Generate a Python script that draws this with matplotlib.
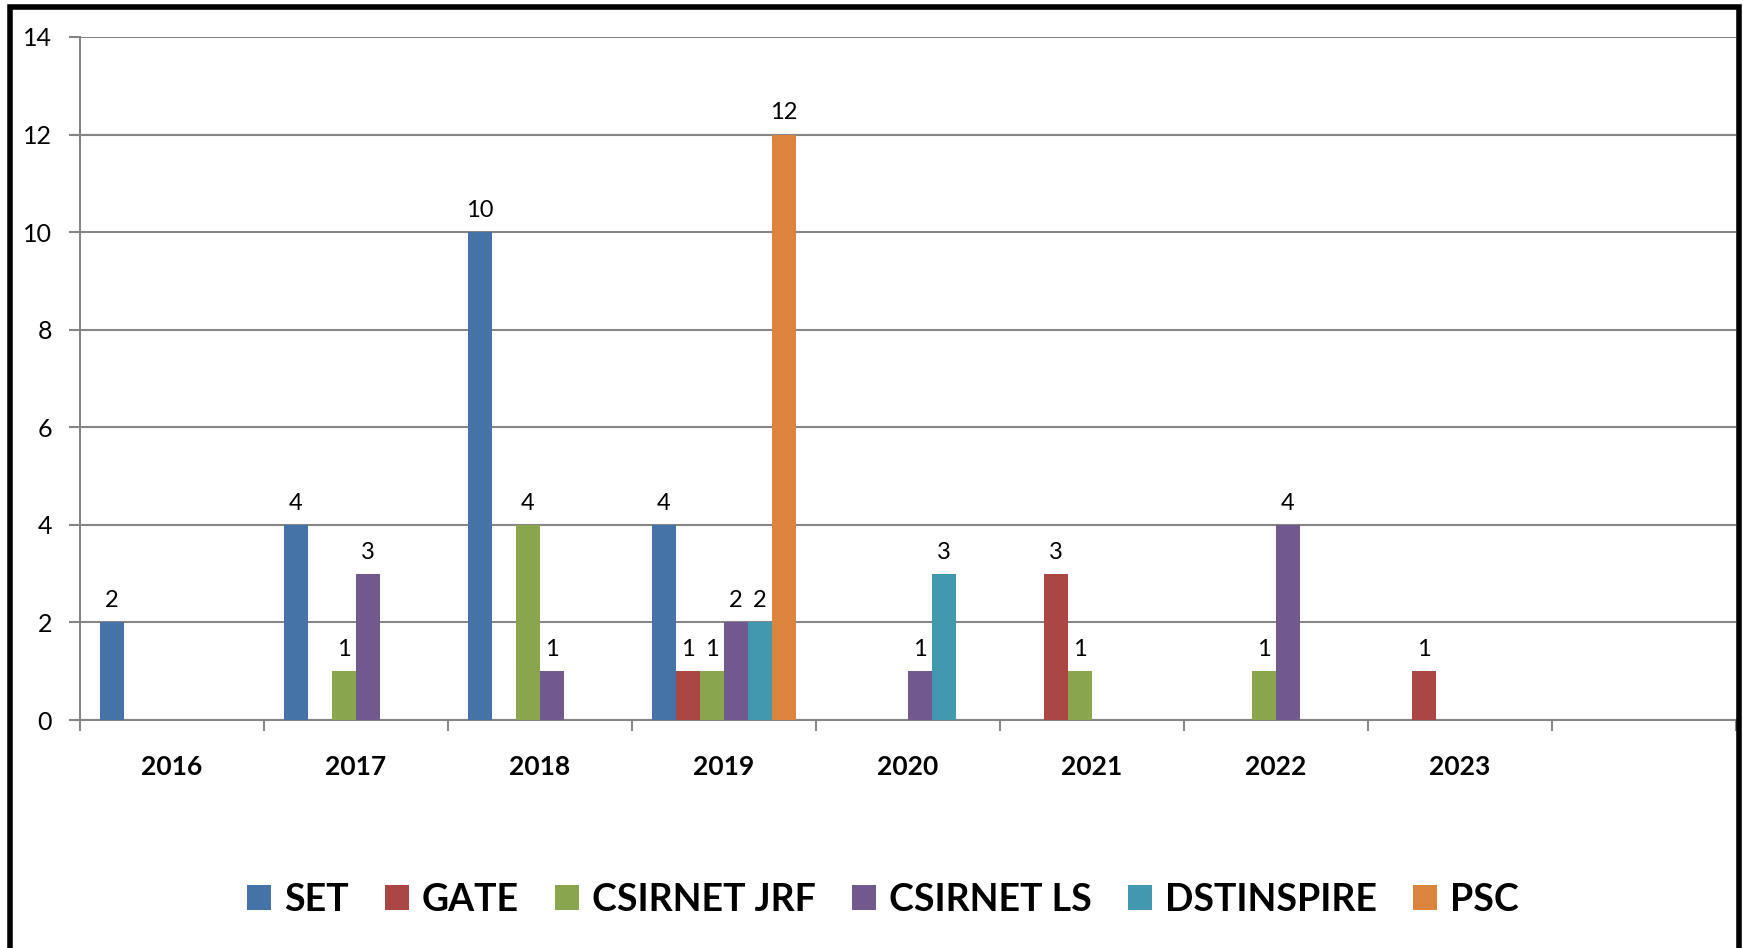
import numpy as np
import matplotlib
matplotlib.use("Agg")
import matplotlib.pyplot as plt
from matplotlib.patches import Rectangle

plt.rcParams['font.family'] = ['Lato', 'DejaVu Sans']

years = ['2016', '2017', '2018', '2019', '2020', '2021', '2022', '2023']
series_names = ['SET', 'GATE', 'CSIRNET JRF', 'CSIRNET LS', 'DSTINSPIRE', 'PSC']
set_vals = [2, 4, 10, 4, 0, 0, 0, 0]
gate_vals = [0, 0, 0, 1, 0, 3, 0, 1]
jrf_vals = [0, 1, 4, 1, 0, 1, 1, 0]
ls_vals = [0, 3, 1, 2, 1, 0, 4, 0]
dst_vals = [0, 0, 0, 2, 3, 0, 0, 0]
psc_vals = [0, 0, 0, 12, 0, 0, 0, 0]
colors = ['#4572A7', '#AA4643', '#89A54E', '#71588F', '#4198AF', '#DB843D']

all_vals = [set_vals, gate_vals, jrf_vals, ls_vals, dst_vals, psc_vals]

fig = plt.figure(figsize=(17.43, 9.48), dpi=100)
ax = fig.add_axes([80 / 1743, 1 - 720 / 948, (1736 - 80) / 1743, (720 - 37) / 948])

n_cat = 9  # one empty slot at the right end, as in the original
bw = 24 / 184
x = np.arange(len(years))
for i, (name, vals, c) in enumerate(zip(series_names, all_vals, colors)):
    pos = x + (i - 2.5) * bw
    v = np.array(vals, dtype=float)
    mask = v > 0
    ax.bar(pos[mask], v[mask], width=bw, color=c, label=name, zorder=3)
    for px, pv in zip(pos[mask], v[mask]):
        ax.annotate(f'{int(pv)}', (px, pv), xytext=(0, 8), textcoords='offset points',
                    ha='center', va='bottom', fontsize=17)

ax.set_xlim(-0.5, n_cat - 0.5)
ax.set_ylim(0, 14)
ax.set_yticks(range(0, 15, 2))
ax.yaxis.grid(True, color='#868686', linewidth=1.5, zorder=0)
ax.set_axisbelow(True)

ax.set_xticks(np.arange(n_cat + 1) - 0.5)
ax.set_xticklabels([])
ax.set_xticks(x, minor=True)
ax.set_xticklabels(years, minor=True, fontsize=19, fontweight='bold')
ax.tick_params(axis='x', which='minor', length=0, pad=25)
ax.tick_params(axis='x', which='major', length=8, width=1.5, color='#868686', direction='out')
ax.tick_params(axis='y', length=8, width=1.5, color='#868686', labelsize=18, pad=12)

for s in ['top', 'right']:
    ax.spines[s].set_visible(False)
for s in ['left', 'bottom']:
    ax.spines[s].set_color('#868686')
    ax.spines[s].set_linewidth(1.5)

fig.legend(loc='center', bbox_to_anchor=(883 / 1743, 1 - 900 / 948), ncol=6, frameon=False,
           prop={'size': 27, 'weight': 'bold'}, handlelength=0.65, handleheight=0.65,
           handletextpad=0.35, columnspacing=0.95)

border = Rectangle((10 / 1743, -0.05), (1739 - 10) / 1743, 1.05 - 7 / 948,
                   transform=fig.transFigure, fill=False, edgecolor='black',
                   linewidth=4, clip_on=False)
fig.add_artist(border)

fig.savefig('out.png', dpi=100)
